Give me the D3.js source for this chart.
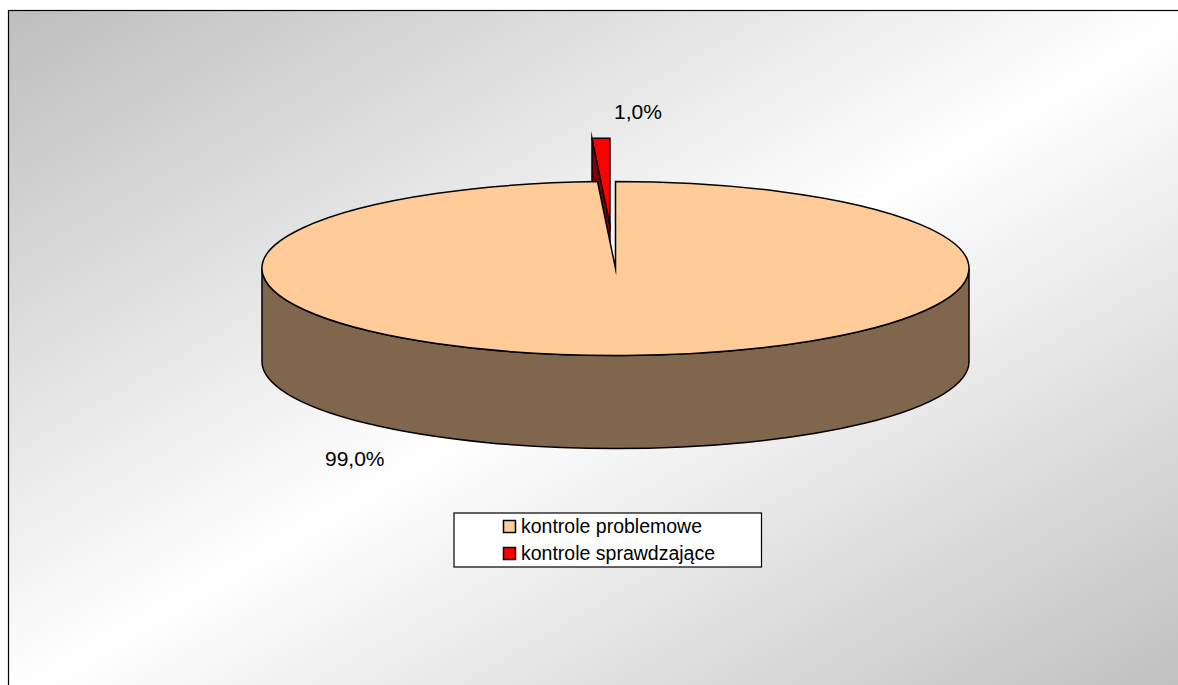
<!DOCTYPE html>
<html>
<head>
<meta charset="UTF-8">
<title></title>
<script src="https://d3js.org/d3.v7.min.js"></script>
<style>
  html, body { margin: 0; padding: 0; background: #fff; overflow: hidden; }
  svg { display: block; }
  text { font-family: "Liberation Sans", Arial, sans-serif; fill: #000; }
</style>
</head>
<body>
<div id="svg"></div>
<script>
const categories = ['kontrole problemowe', 'kontrole sprawdzające'];
const shares = [99.0, 1.0];
const shareLabels = ['99,0%', '1,0%'];
const topColors = ['#FFCC99', '#FF0000'];
const sideColors = ['#80664D', '#800000'];

const width = 1178, height = 685;
const cx = 615.5, cy = 268.5;  // srodek gornej elipsy
const rx = 353.5, ry = 87;
const depth = 93;
const explode = 176;           // wysuniecie malego wycinka
const backSqueeze = 0.81;      // perspektywa - tyl tarczy jest wezszy

const svg = d3.select('#svg').append('svg').attr('width', width).attr('height', height);

// tlo z ukosnym gradientem
const grad = svg.append('defs').append('linearGradient').attr('id', 'bg')
  .attr('x1', 0).attr('y1', 0).attr('x2', 1).attr('y2', 1);
grad.append('stop').attr('offset', 0).attr('stop-color', '#bebebe');
grad.append('stop').attr('offset', 0.5).attr('stop-color', '#ffffff');
grad.append('stop').attr('offset', 1).attr('stop-color', '#bebebe');

svg.append('rect').attr('x', 8.5).attr('y', 10.5).attr('width', 1190).attr('height', 690)
  .attr('fill', 'url(#bg)').attr('stroke', '#000').attr('stroke-width', 1.2);

const slices = d3.pie().sort(null)(shares);
const smallSweep = (slices[1].endAngle - slices[1].startAngle) * backSqueeze;
const smallMid = (slices[1].startAngle + slices[1].endAngle) / 2;
const offX = explode * Math.sin(smallMid);
const offY = -explode * Math.cos(smallMid) * ry / rx;

const arc = d3.arc().innerRadius(0).outerRadius(rx);
const squash = (x, y) => `translate(${x},${y}) scale(1,${ry / rx})`;
const lineStyle = s => s.attr('stroke', '#000').attr('stroke-width', 1.5)
  .attr('stroke-linejoin', 'miter').attr('stroke-miterlimit', 30);

// wysuniety wycinek: scianka, potem wierzch
const tipX = cx + offX, tipY = cy + offY;
const rimX = tipX - rx * Math.sin(smallSweep);
const rimY = tipY - ry * Math.cos(smallSweep);
svg.append('path')
  .attr('d', d3.line()([[tipX, tipY], [rimX, rimY], [rimX, rimY + depth], [tipX, tipY + depth]]) + 'Z')
  .attr('fill', sideColors[1]).call(lineStyle);

svg.append('path')
  .attr('d', arc({ startAngle: 2 * Math.PI - smallSweep, endAngle: 2 * Math.PI }))
  .attr('transform', squash(tipX, tipY))
  .attr('vector-effect', 'non-scaling-stroke')
  .attr('fill', topColors[1]).call(lineStyle);

// duzy wycinek: scianka przednia i wierzch
svg.append('path')
  .attr('d', `M${cx - rx},${cy}A${rx},${ry} 0 0 0 ${cx + rx},${cy}V${cy + depth}A${rx},${ry} 0 0 1 ${cx - rx},${cy + depth}Z`)
  .attr('fill', sideColors[0]).call(lineStyle);

svg.append('path')
  .attr('d', arc({ startAngle: 0, endAngle: 2 * Math.PI - smallSweep }))
  .attr('transform', squash(cx, cy))
  .attr('vector-effect', 'non-scaling-stroke')
  .attr('fill', topColors[0]).call(lineStyle);

// etykiety
const labelPos = [[325, 466], [614, 119]];
svg.selectAll('text.share').data(shareLabels).join('text').attr('class', 'share')
  .attr('x', (d, i) => labelPos[i][0]).attr('y', (d, i) => labelPos[i][1])
  .attr('font-size', 21).text(d => d);

// legenda
const legend = svg.append('g');
legend.append('rect').attr('x', 454).attr('y', 513).attr('width', 307.5).attr('height', 54)
  .attr('fill', '#fff').attr('stroke', '#000').attr('stroke-width', 1.2);
const rowY = d3.scaleBand().domain(categories).range([513, 567]);
const rows = legend.selectAll('g').data(categories).join('g')
  .attr('transform', d => `translate(0,${rowY(d) + rowY.bandwidth() / 2})`);
rows.append('rect').attr('x', 503.5).attr('y', -6).attr('width', 12).attr('height', 12)
  .attr('fill', (d, i) => topColors[i]).attr('stroke', '#000').attr('stroke-width', 1.5);
rows.append('text').attr('x', 521).attr('y', 6.5).attr('font-size', 19.5).text(d => d);
</script>
</body>
</html>
